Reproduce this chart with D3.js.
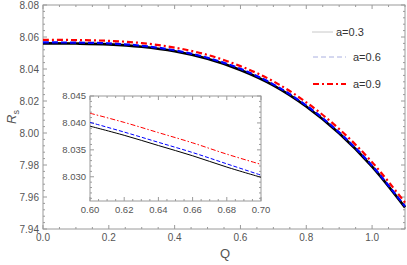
<!DOCTYPE html>
<html>
<head>
<meta charset="utf-8">
<script src="https://cdn.jsdelivr.net/npm/d3@7"></script>
<style>
  body { margin: 0; background: #fff; }
  text { font-family: "Liberation Sans", Arial, sans-serif; }
</style>
</head>
<body>
<div id="chart"></div>
<script>
// main plot values
let qMain = [0, 0.1, 0.2, 0.3, 0.4, 0.5, 0.6, 0.7, 0.8, 0.9, 1.0, 1.1];
let rsA03 = [8.0560, 8.0559, 8.0554, 8.0539, 8.0511, 8.0464, 8.0394, 8.0298, 8.0166, 7.9998, 7.9790, 7.9535];
let rsA06 = [8.0566, 8.0565, 8.0560, 8.0545, 8.0517, 8.0470, 8.0401, 8.0304, 8.0172, 8.0004, 7.9796, 7.9541];
let rsA09 = [8.0582, 8.0581, 8.0576, 8.0562, 8.0534, 8.0488, 8.0418, 8.0323, 8.0192, 8.0025, 7.9818, 7.9565];

// inset values
let qInset = [0.60, 0.62, 0.64, 0.66, 0.68, 0.70];
let inA03 = [8.0394, 8.0377, 8.0358, 8.0339, 8.0318, 8.0299];
let inA06 = [8.0401, 8.0383, 8.0364, 8.0345, 8.0324, 8.0303];
let inA09 = [8.0418, 8.0401, 8.0382, 8.0363, 8.0342, 8.0323];

let legendLabels = ["a=0.3", "a=0.6", "a=0.9"];

let width = 407, height = 265;
let axisColor = "#9a9a9a", labelColor = "#555";

let svg = d3.select("#chart").append("svg")
    .attr("width", width)
    .attr("height", height);

let x = d3.scaleLinear().domain([0, 1.1]).range([43, 405]);
let y = d3.scaleLinear().domain([7.94, 8.08]).range([229, 5]);

// draws a mathematica-like frame with inward ticks on all four sides
function frame(g, xs, ys, xMajor, xMinor, yMajor, yMinor, xFmt, yFmt, fontSize) {
    let [x0, x1] = xs.range();
    let [y0, y1] = ys.range();
    g.append("rect")
        .attr("x", x0).attr("y", y1)
        .attr("width", x1 - x0).attr("height", y0 - y1)
        .attr("fill", "none").attr("stroke", axisColor).attr("stroke-width", 1);

    let xd = xs.domain(), yd = ys.domain();
    let eps = 1e-9;
    let xMinorT = d3.range(Math.ceil(xd[0] / xMinor - eps) * xMinor, xd[1] + eps, xMinor);
    let yMinorT = d3.range(Math.ceil(yd[0] / yMinor - eps) * yMinor, yd[1] + eps, yMinor);
    let isMajor = (v, step) => Math.abs(v / step - Math.round(v / step)) < 1e-6;

    xMinorT.forEach(v => {
        let len = isMajor(v, xMajor) ? 4 : 2;
        let px = xs(v);
        g.append("line").attr("x1", px).attr("x2", px).attr("y1", y0).attr("y2", y0 - len)
            .attr("stroke", axisColor);
        g.append("line").attr("x1", px).attr("x2", px).attr("y1", y1).attr("y2", y1 + len)
            .attr("stroke", axisColor);
    });
    yMinorT.forEach(v => {
        let len = isMajor(v, yMajor) ? 4 : 2;
        let py = ys(v);
        g.append("line").attr("x1", x0).attr("x2", x0 + len).attr("y1", py).attr("y2", py)
            .attr("stroke", axisColor);
        g.append("line").attr("x1", x1).attr("x2", x1 - len).attr("y1", py).attr("y2", py)
            .attr("stroke", axisColor);
    });

    let xMajorT = xMinorT.filter(v => isMajor(v, xMajor));
    let yMajorT = yMinorT.filter(v => isMajor(v, yMajor));
    g.selectAll(null).data(xMajorT).enter().append("text")
        .attr("x", d => xs(d)).attr("y", y0 + fontSize + 2)
        .attr("text-anchor", "middle")
        .attr("font-size", fontSize).attr("fill", labelColor)
        .text(d => d3.format(xFmt)(d));
    g.selectAll(null).data(yMajorT).enter().append("text")
        .attr("x", x0 - 4).attr("y", d => ys(d) + fontSize * 0.35)
        .attr("text-anchor", "end")
        .attr("font-size", fontSize).attr("fill", labelColor)
        .text(d => d3.format(yFmt)(d));
}

let mainG = svg.append("g");
frame(mainG, x, y, 0.2, 0.05, 0.02, 0.004, ".1f", ".2f", 10);

let lineMain = (vals) => d3.line()
    .x((d, i) => x(qMain[i]))
    .y(d => y(d))
    .curve(d3.curveCatmullRom)(vals);

mainG.append("path").attr("d", lineMain(rsA03))
    .attr("fill", "none").attr("stroke", "#000").attr("stroke-width", 2.6);
mainG.append("path").attr("d", lineMain(rsA06))
    .attr("fill", "none").attr("stroke", "#0000ff").attr("stroke-width", 2.2)
    .attr("stroke-dasharray", "6,3");
mainG.append("path").attr("d", lineMain(rsA09))
    .attr("fill", "none").attr("stroke", "#ff0000").attr("stroke-width", 2.2)
    .attr("stroke-dasharray", "6,3,2,3");

// axis labels
let rl = svg.append("text")
    .attr("transform", "translate(16,117) rotate(-90)")
    .attr("text-anchor", "middle")
    .attr("font-size", 13).attr("fill", labelColor);
rl.append("tspan").attr("font-style", "italic").text("R");
rl.append("tspan").attr("font-size", 9).attr("dy", 3).text("s");

svg.append("text")
    .attr("x", 225).attr("y", 258)
    .attr("text-anchor", "middle")
    .attr("font-size", 13).attr("fill", labelColor)
    .text("Q");

// legend
let legendY = [32, 57, 84];
let legendLine = [[312, 333], [313, 346], [313, 346]];
let legendText = [336, 353, 353];
let legendStroke = ["#c8c8c8", "#aab0e0", "#ff0000"];
let legendDash = [null, "5,3", "6,3,2,3"];
let legendWidth = [1, 1, 2];
legendLabels.forEach((lab, i) => {
    svg.append("line")
        .attr("x1", legendLine[i][0]).attr("x2", legendLine[i][1])
        .attr("y1", legendY[i]).attr("y2", legendY[i])
        .attr("stroke", legendStroke[i]).attr("stroke-width", legendWidth[i])
        .attr("stroke-dasharray", legendDash[i]);
    svg.append("text")
        .attr("x", legendText[i]).attr("y", legendY[i] + 4)
        .attr("font-size", 11).attr("fill", "#333")
        .text(lab);
});

// inset
let xi = d3.scaleLinear().domain([0.6, 0.7]).range([90, 261]);
let yi = d3.scaleLinear().domain([8.0255, 8.045]).range([201, 96]);

let insetG = svg.append("g");
insetG.append("rect")
    .attr("x", 90).attr("y", 96).attr("width", 171).attr("height", 105)
    .attr("fill", "#fff");
frame(insetG, xi, yi, 0.02, 0.005, 0.005, 0.001, ".2f", ".3f", 9.5);

let lineInset = (vals) => d3.line()
    .x((d, i) => xi(qInset[i]))
    .y(d => yi(d))
    .curve(d3.curveCatmullRom)(vals);

insetG.append("path").attr("d", lineInset(inA03))
    .attr("fill", "none").attr("stroke", "#000").attr("stroke-width", 1);
insetG.append("path").attr("d", lineInset(inA06))
    .attr("fill", "none").attr("stroke", "#0000ff").attr("stroke-width", 1)
    .attr("stroke-dasharray", "4,2");
insetG.append("path").attr("d", lineInset(inA09))
    .attr("fill", "none").attr("stroke", "#ff0000").attr("stroke-width", 1)
    .attr("stroke-dasharray", "5,2,1.5,2");
</script>
</body>
</html>
